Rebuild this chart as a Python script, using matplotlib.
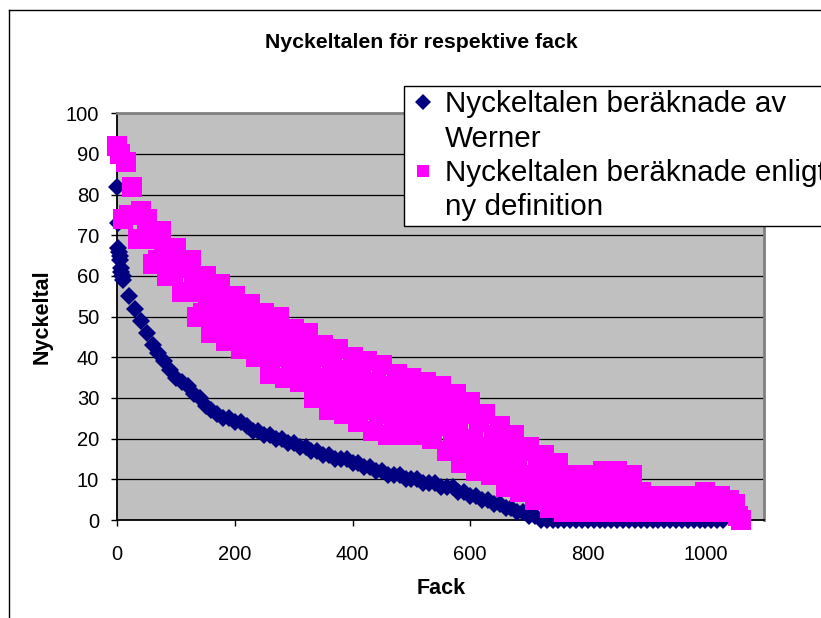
import matplotlib
matplotlib.use("Agg")
import matplotlib.pyplot as plt
from matplotlib.lines import Line2D
import numpy as np

plt.rcParams["font.family"] = ["Liberation Sans", "DejaVu Sans"]

# Werner's key figures (sorted, one value per fack; first ten facks, then every 10th)
werner_x = [0, 1, 2, 3, 4, 5, 6, 7, 8, 9] + list(range(10, 1031, 10))
werner_y = [82, 73, 67, 66, 65, 64, 62, 61, 60, 60,
            59, 55, 52, 49, 46, 43, 41, 39, 37, 35,
            34, 33, 31, 30, 28, 27, 26, 25, 25, 24,
            24, 23, 22, 22, 21, 21, 20, 20, 19, 19,
            18, 18, 17, 17, 16, 16, 15, 15, 15, 14,
            14, 13, 13, 12, 12, 11, 11, 11, 10, 10,
            10, 9, 9, 9, 8, 8, 8, 7, 7, 6,
            6, 5, 5, 4, 4, 3, 3, 2, 2, 1,
            1, 0] + [0] * 31

# key figures by the new definition (every 5th fack)
ny_x = list(range(0, 1061, 5))
ny_y = [92, 90, 74, 88, 75, 82, 75, 69, 76, 69,
        74, 69, 63, 70, 64, 71, 65, 60, 66, 61,
        67, 62, 56, 62, 56, 64, 57, 50, 59, 51,
        60, 53, 46, 55, 48, 58, 51, 44, 53, 46,
        55, 49, 42, 51, 45, 53, 46, 40, 48, 41,
        51, 44, 36, 47, 40, 50, 42, 35, 45, 38,
        47, 40, 34, 43, 36, 46, 38, 30, 40, 32,
        43, 35, 27, 38, 31, 42, 34, 26, 37, 29,
        40, 32, 24, 36, 27, 39, 31, 22, 34, 26,
        38, 30, 21, 33, 25, 36, 28, 21, 32, 24,
        35, 28, 21, 31, 24, 34, 27, 20, 30, 23,
        33, 25, 17, 28, 20, 31, 22, 14, 26, 17,
        29, 20, 12, 24, 15, 26, 18, 11, 21, 13,
        23, 16, 8, 18, 11, 21, 14, 7, 17, 9,
        18, 11, 5, 14, 7, 16, 10, 3, 12, 6,
        14, 8, 2, 9, 4, 11, 7, 2, 9, 4,
        11, 7, 2, 10, 5, 12, 7, 2, 10, 5,
        12, 7, 2, 9, 4, 11, 7, 2, 7, 3,
        6, 4, 2, 5, 3, 6, 4, 2, 5, 3,
        6, 4, 2, 5, 3, 6, 4, 2, 5, 3,
        7, 4, 2, 5, 3, 6, 4, 2, 5, 3,
        4, 1, 0]

x_ticks = [0, 200, 400, 600, 800, 1000]
y_ticks = list(range(0, 101, 10))

NAVY = "#000080"
MAGENTA = "#FF00FF"
W, H = 821, 618

fig = plt.figure(figsize=(W / 100, H / 100), dpi=100)
ax = fig.add_axes([117.3 / W, 1 - 520 / H, 647 / W, 406.7 / H])
ax.set_facecolor("#C0C0C0")

# no antialiasing: overlapping markers then merge into one solid band
ax.plot(werner_x, werner_y, ls="none", marker="D", ms=9.5, mew=0,
        color=NAVY, clip_on=False, zorder=3, antialiased=False)
ax.plot(ny_x, ny_y, ls="none", marker="s", ms=14.5, mew=0,
        color=MAGENTA, clip_on=False, zorder=4, antialiased=False)

ax.set_xlim(0, 1100)
ax.set_ylim(0, 100)
ax.set_xticks(x_ticks)
ax.set_yticks(y_ticks)
ax.tick_params(direction="out", length=4, width=1, labelsize=14.5, colors="black")
ax.tick_params(axis="x", pad=14)
ax.tick_params(axis="y", pad=9)
ax.yaxis.grid(True, color="black", lw=0.9)
ax.set_axisbelow(True)
for side in ("left", "bottom"):
    ax.spines[side].set_color("black")
    ax.spines[side].set_linewidth(1.3)
for side in ("top", "right"):
    ax.spines[side].set_color("#808080")
    ax.spines[side].set_linewidth(2)

fig.text(421.5 / W, 1 - 42 / H, "Nyckeltalen för respektive fack",
         ha="center", va="center", fontsize=15.3, fontweight="bold")
fig.text(42 / W, 1 - 317 / H, "Nyckeltal", rotation=90,
         ha="center", va="center", fontsize=15.5, fontweight="bold")
fig.text(441 / W, 1 - 589 / H, "Fack",
         ha="center", va="center", fontsize=15.5, fontweight="bold")

handles = [
    Line2D([], [], ls="none", marker="D", ms=8, mew=0, color=NAVY),
    Line2D([], [], ls="none"),
    Line2D([], [], ls="none", marker="s", ms=8, mew=0, color=MAGENTA),
    Line2D([], [], ls="none"),
]
labels = ["Nyckeltalen beräknade av", "Werner",
          "Nyckeltalen beräknade enligt", "ny definition"]
leg = fig.legend(handles, labels, loc="upper left",
                 bbox_to_anchor=(404 / W, 1 - 86 / H), bbox_transform=fig.transFigure,
                 borderaxespad=0, fontsize=21.3, fancybox=False, framealpha=1,
                 edgecolor="black", borderpad=0.15, handlelength=1.0,
                 handletextpad=0.22, labelspacing=0.21)
leg.get_frame().set_linewidth(1)

# outer chart frame (runs off the right and bottom edges)
fig.add_artist(Line2D([8.5 / W, 8.5 / W], [0, 1 - 10 / H], color="black", lw=1))
fig.add_artist(Line2D([8.5 / W, 1], [1 - 10 / H, 1 - 10 / H], color="black", lw=1))

fig.savefig("out.png", dpi=100)
